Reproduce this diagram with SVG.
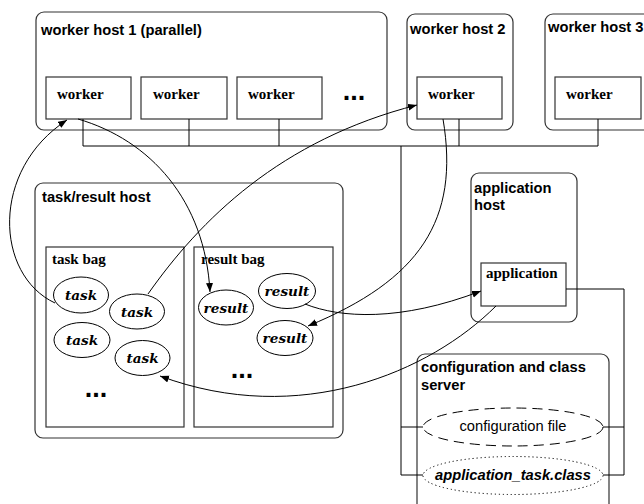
<svg xmlns="http://www.w3.org/2000/svg" width="644" height="504" viewBox="0 0 644 504">
<defs>
<marker id="ah" markerUnits="userSpaceOnUse" markerWidth="10" markerHeight="8" refX="9" refY="3.5" orient="auto">
<path d="M0,0 L9,3.5 L0,7 Z" fill="#000"/>
</marker>
<style>
.host{fill:#fff;stroke:#333;stroke-width:1.2}
.box{fill:#fff;stroke:#333;stroke-width:1.2}
.ell{fill:#fff;stroke:#000;stroke-width:1}
.wire{fill:none;stroke:#000;stroke-width:1}
.arc{fill:none;stroke:#000;stroke-width:1;marker-end:url(#ah)}
.hl{font-family:"Liberation Sans",Arial,sans-serif;font-weight:bold;font-size:14.7px;fill:#000}
.sl{font-family:"Liberation Serif","Times New Roman",serif;font-weight:bold;font-size:15px;fill:#000}
.el{font-family:"DejaVu Serif",serif;font-weight:bold;font-style:italic;font-size:13.6px;fill:#000;text-anchor:middle}
.dots{font-family:"Liberation Sans",Arial,sans-serif;font-weight:bold;font-size:27px;fill:#000;text-anchor:middle}
</style>
</defs>

<g id="worker-host-1">
<rect class="host" x="36" y="12" width="351" height="118" rx="8"/>
<text class="hl" x="41" y="35">worker host 1 (parallel)</text>
<text class="dots" x="354" y="100">...</text>
</g>
<g id="worker-1a"><rect class="box" x="46" y="77" width="85" height="42"/><text class="sl" x="57" y="99">worker</text></g>
<g id="worker-1b"><rect class="box" x="141" y="77" width="86" height="42"/><text class="sl" x="153" y="99">worker</text></g>
<g id="worker-1c"><rect class="box" x="237" y="77" width="85" height="42"/><text class="sl" x="248" y="99">worker</text></g>

<g id="worker-host-2">
<rect class="host" x="407" y="14" width="106" height="116" rx="8"/>
<text class="hl" x="410" y="34">worker host 2</text>
</g>
<g id="worker-2"><rect class="box" x="417" y="77" width="85" height="42"/><text class="sl" x="428" y="99">worker</text></g>

<g id="worker-host-3">
<rect class="host" x="545" y="14" width="110" height="116" rx="8"/>
<text class="hl" x="548" y="32">worker host 3</text>
</g>
<g id="worker-3"><rect class="box" x="555" y="77" width="86" height="42"/><text class="sl" x="566" y="99">worker</text></g>

<g id="task-result-host">
<rect class="host" x="35" y="183" width="308" height="255" rx="8"/>
<text class="hl" x="42" y="202">task/result host</text>
</g>
<g id="task-bag">
<rect class="box" x="46" y="247" width="138" height="180"/>
<text class="sl" x="52" y="264">task bag</text>
<text class="dots" x="96" y="397">...</text>
</g>
<g id="result-bag">
<rect class="box" x="194" y="247" width="139" height="180"/>
<text class="sl" x="201" y="264">result bag</text>
<text class="dots" x="242" y="378">...</text>
</g>
<g id="task-1"><ellipse class="ell" cx="81" cy="295" rx="27.5" ry="18"/><text class="el" x="81" y="300">task</text></g>
<g id="task-2"><ellipse class="ell" cx="137" cy="311.5" rx="27.5" ry="17.5"/><text class="el" x="137" y="316.5">task</text></g>
<g id="task-3"><ellipse class="ell" cx="82" cy="340" rx="28" ry="17.5"/><text class="el" x="82" y="345">task</text></g>
<g id="task-4"><ellipse class="ell" cx="142.5" cy="358" rx="27.5" ry="17.5"/><text class="el" x="142.5" y="363">task</text></g>
<g id="result-1"><ellipse class="ell" cx="226" cy="307.5" rx="27.5" ry="17.5"/><text class="el" x="226" y="312.5">result</text></g>
<g id="result-2"><ellipse class="ell" cx="287" cy="291" rx="28.5" ry="17.5"/><text class="el" x="287" y="296">result</text></g>
<g id="result-3"><ellipse class="ell" cx="285" cy="338" rx="28" ry="17.5"/><text class="el" x="285" y="343">result</text></g>

<g id="application-host">
<rect class="host" x="471" y="173" width="106" height="149" rx="8"/>
<text class="hl" x="474" y="193">application</text>
<text class="hl" x="474" y="210">host</text>
</g>
<g id="application"><rect class="box" x="481" y="263" width="85" height="43"/><text class="sl" x="486" y="278">application</text></g>

<g id="config-server">
<rect class="host" x="417" y="354" width="192" height="160" rx="8"/>
<text class="hl" x="421" y="372">configuration and class</text>
<text class="hl" x="421" y="390">server</text>
</g>
<g id="config-file">
<ellipse cx="513" cy="427" rx="90" ry="19" fill="#fff" stroke="#000" stroke-width="1" stroke-dasharray="10,6"/>
<text x="513" y="431" text-anchor="middle" style="font-family:'Liberation Sans',Arial,sans-serif;font-size:14.7px">configuration file</text>
</g>
<g id="class-file">
<ellipse cx="513" cy="475.5" rx="90" ry="19" fill="#fff" stroke="#000" stroke-width="1" stroke-dasharray="1.2,2.8"/>
<text x="513" y="480" text-anchor="middle" style="font-family:'Liberation Sans',Arial,sans-serif;font-size:14.7px;font-weight:bold;font-style:italic">application_task.class</text>
</g>

<g id="connectors">
<path class="wire" d="M83,119 V146 H598 V119"/>
<path class="wire" d="M189,119 V146 M279,119 V146 M459,119 V146"/>
<path class="wire" d="M401,146 V475 H423 M401,427 H423"/>
<path class="wire" d="M566,289 H624 V475 H603 M624,427 H603"/>
<path class="arc" d="M55,303 C-5,275 -10,170 67,120"/>
<path class="arc" d="M78,119 C150,140 205,200 210,292"/>
<path class="arc" d="M148,294 C200,220 280,140 417,105"/>
<path class="arc" d="M443,119 C460,220 420,280 308,326"/>
<path class="arc" d="M305,304 C340,318 400,322 481,291"/>
<path class="arc" d="M496,306 C430,372 300,428 160,376"/>
</g>
</svg>
